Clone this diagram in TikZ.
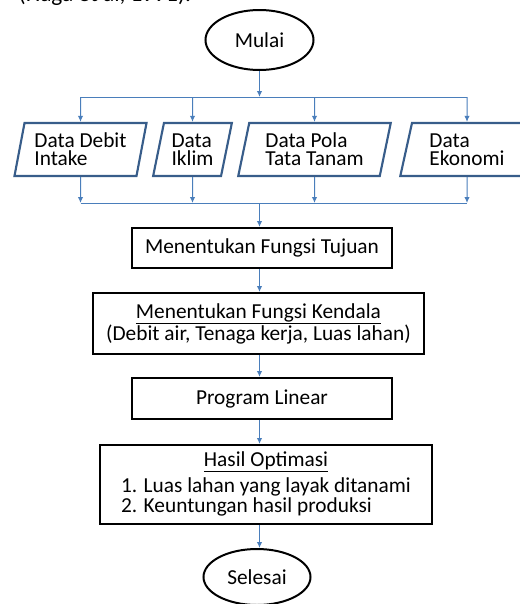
\documentclass[tikz,border=0pt]{standalone}
\usepackage{fontspec}
\setmainfont{Carlito}
\usetikzlibrary{shapes.geometric,arrows.meta}

\definecolor{linkblue}{HTML}{4A7EBB}
\definecolor{databorder}{HTML}{385D8A}

\tikzset{
  terminal/.style={draw, ellipse, line width=1.5pt, minimum width=81pt, minimum height=45pt, inner sep=0pt},
  databox/.style={draw=databorder, trapezium, trapezium left angle=76, trapezium right angle=104,
    trapezium stretches=true, line width=1.6pt, minimum height=39.75pt, inner sep=0pt,
    align=left, font=\fontsize{16}{13.6}\selectfont},
  procbox/.style={draw, rectangle, line width=1.5pt, inner sep=0pt, align=center},
  link/.style={draw=linkblue, line width=0.75pt},
  linkarrow/.style={link, -{Latex[length=4.5pt,width=4pt]}},
}

\begin{document}
\begin{tikzpicture}[x=0.75pt,y=-0.75pt,font=\fontsize{16}{16.5}\selectfont]
  \useasboundingbox (0,0) rectangle (520,604);

  % cut-off citation line above the chart
  \node[anchor=base west, font=\fontsize{17.5}{18}\selectfont] (kutipan) at (14,1.5) {(Haga et al, 1991).};

  \coordinate (spine) at (259.5,0);
  \coordinate (busatas) at (259.5,97);
  \coordinate (busbawah) at (259.5,203);

  \node[terminal] (mulai) at (259.5,40) {Mulai};

  % data inputs
  \node[databox, minimum width=99.75pt] (d1) at (80.5,149.5) {Data Debit\\Intake};
  \node[databox, minimum width=59.25pt] (d2) at (192.5,149.5) {Data\\Iklim};
  \node[databox, minimum width=114.75pt] (d3) at (314.5,149.5) {Data Pola\\Tata Tanam};
  \node[databox, minimum width=100.5pt] (d4) at (467,149.5) {Data\\Ekonomi};

  % process steps
  \node[procbox, minimum width=195pt, minimum height=30pt] (tujuan) at (262,248) {Menentukan Fungsi Tujuan};
  \node[procbox, minimum width=248.25pt, minimum height=45.75pt] (kendala) at (258.5,323.5)
    {\underline{Menentukan Fungsi Kendala}\\(Debit air, Tenaga kerja, Luas lahan)};
  \node[procbox, minimum width=195pt, minimum height=30.75pt] (program) at (262,398.5) {Program Linear};
  \node[procbox, minimum width=249pt, minimum height=59.25pt] (hasil) at (266,484.5)
    {{\def\arraystretch{0.76}\begin{tabular}{@{}l@{}}
      \multicolumn{1}{@{}c@{}}{\underline{Hasil Optimasi}}\\[5pt]
      1. Luas lahan yang layak ditanami\\
      2. Keuntungan hasil produksi
    \end{tabular}}};

  \node[terminal, minimum width=80.25pt, minimum height=42pt] (selesai) at (257,577) {Selesai};

  % connectors
  \draw[linkarrow] (mulai.south -| spine) -- (busatas);
  \draw[link] (d1 |- busatas) -- (d4 |- busatas);
  \foreach \d in {d1,d2,d3,d4}{
    \draw[linkarrow] (\d |- busatas) -- (\d.north);
    \draw[linkarrow] (\d.south) -- (\d |- busbawah);
  }
  \draw[link] (d1 |- busbawah) -- (d4 |- busbawah);
  \draw[linkarrow] (busbawah) -- (tujuan.north -| spine);
  \draw[linkarrow] (tujuan.south -| spine) -- (kendala.north -| spine);
  \draw[linkarrow] (kendala.south -| spine) -- (program.north -| spine);
  \draw[linkarrow] (program.south -| spine) -- (hasil.north -| spine);
  \draw[linkarrow] (hasil.south -| spine) -- (selesai.north -| spine);
\end{tikzpicture}
\end{document}
